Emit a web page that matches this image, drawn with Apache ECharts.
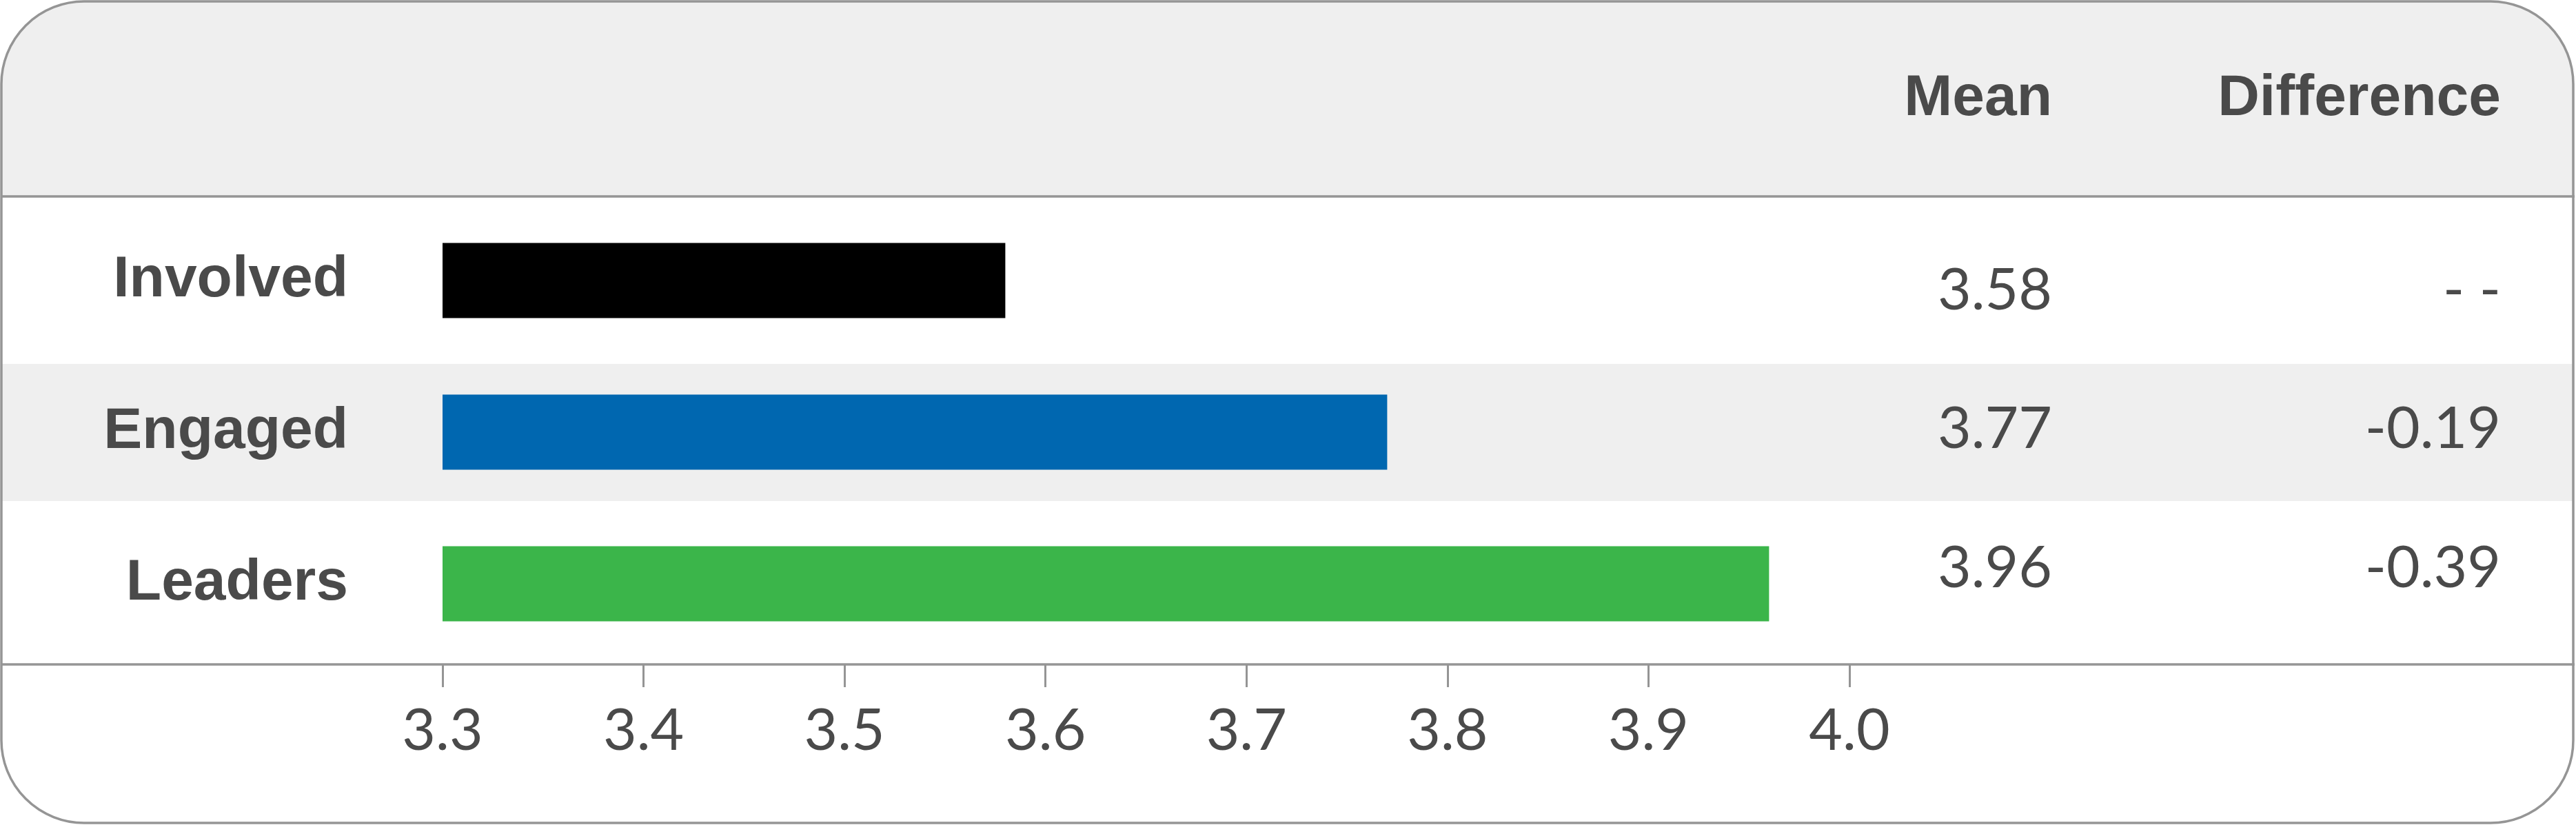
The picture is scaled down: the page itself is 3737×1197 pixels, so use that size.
<!DOCTYPE html>
<html><head><meta charset="utf-8">
<script src="https://cdn.jsdelivr.net/npm/echarts@6/dist/echarts.min.js"></script>
<style>html,body{margin:0;padding:0;background:#fff}#c{width:3737px;height:1197px}</style>
</head><body><div id="c"></div>
<script>
// ---- data ----
const categories = ['Involved', 'Engaged', 'Leaders'];
const means = [3.58, 3.77, 3.96];
const differences = ['- -', '-0.19', '-0.39'];
const tickLabels = ['3.3', '3.4', '3.5', '3.6', '3.7', '3.8', '3.9', '4.0'];
const headers = ['Mean', 'Difference'];
const barColors = ['#000000', '#0067b0', '#3bb54a'];

// ---- styling ----
const TXT = '#4a4a4a';
const LINE = '#959595';
const BG = '#efefef';
const labelFont = 'Liberation Sans';
const numFont = 'Lato';
const numWeight = 400;
const rowShift = [15, -4, -22];

function shiftRich(fontFamily) {
  const rich = {};
  rowShift.forEach((s, i) => {
    rich['s' + i] = {
      fontFamily: fontFamily, fontWeight: numWeight, fontSize: 84, color: TXT,
      padding: s > 0 ? [2 * s, 0, 0, 0] : [0, 0, -2 * s, 0]
    };
  });
  return rich;
}

const chart = echarts.init(document.getElementById('c'), null, { renderer: 'canvas' });
chart.setOption({
  animation: false,
  backgroundColor: '#ffffff',
  grid: { left: 642, right: 1054, top: 297, bottom: 240, containLabel: false },
  xAxis: {
    type: 'value', min: 3.3, max: 4.0, interval: 0.1, offset: 7,
    axisLine: { show: false },
    axisTick: { show: true, length: 33, lineStyle: { color: LINE, width: 3 } },
    splitLine: { show: false },
    axisLabel: {
      margin: 55, fontSize: 84, fontFamily: numFont, fontWeight: numWeight, color: TXT,
      formatter: (v) => {
        const i = Math.round((v - 3.3) * 10);
        return tickLabels[i] !== undefined ? tickLabels[i] : '';
      }
    }
  },
  yAxis: [
    {
      type: 'category', data: categories, inverse: true, position: 'left',
      axisLine: { show: false }, axisTick: { show: false }, splitLine: { show: false },
      axisLabel: { margin: 137, fontSize: 84, fontFamily: labelFont, fontWeight: 'bold', color: TXT }
    },
    {
      type: 'category', data: categories, inverse: true, position: 'right',
      axisLine: { show: false }, axisTick: { show: false }, splitLine: { show: false },
      axisLabel: {
        margin: 294, align: 'right',
        formatter: (v, i) => '{s' + i + '|' + means[i].toFixed(2) + '}',
        rich: shiftRich(numFont)
      }
    },
    {
      type: 'category', data: categories, inverse: true, position: 'right',
      axisLine: { show: false }, axisTick: { show: false }, splitLine: { show: false },
      axisLabel: {
        margin: 945, align: 'right',
        formatter: (v, i) => '{s' + i + '|' + differences[i] + '}',
        rich: shiftRich(numFont)
      }
    }
  ],
  series: [{
    type: 'bar', yAxisIndex: 0, barWidth: 109,
    data: means.map((m, i) => ({ value: m, itemStyle: { color: barColors[i] } }))
  }],
  graphic: [
    { type: 'rect', z: -10, shape: { x: 2, y: 2, width: 3731, height: 283, r: [120, 120, 0, 0] }, style: { fill: BG } },
    { type: 'rect', z: -10, shape: { x: 2, y: 528, width: 3731, height: 199 }, style: { fill: BG } },
    { type: 'line', z: 5, shape: { x1: 2, y1: 285, x2: 3735, y2: 285 }, style: { stroke: LINE, lineWidth: 3.5 } },
    { type: 'line', z: 5, shape: { x1: 2, y1: 964, x2: 3735, y2: 964 }, style: { stroke: LINE, lineWidth: 3.5 } },
    { type: 'rect', z: 5, shape: { x: 2, y: 2, width: 3731, height: 1192, r: 120 }, style: { fill: null, stroke: LINE, lineWidth: 3.5 } },
    { type: 'text', z: 5, style: { text: headers[0], x: 2977, y: 144, align: 'right', verticalAlign: 'middle', fontSize: 84, fontFamily: labelFont, fontWeight: 'bold', fill: TXT } },
    { type: 'text', z: 5, style: { text: headers[1], x: 3628, y: 144, align: 'right', verticalAlign: 'middle', fontSize: 84, fontFamily: labelFont, fontWeight: 'bold', fill: TXT } }
  ]
});
</script></body></html>
